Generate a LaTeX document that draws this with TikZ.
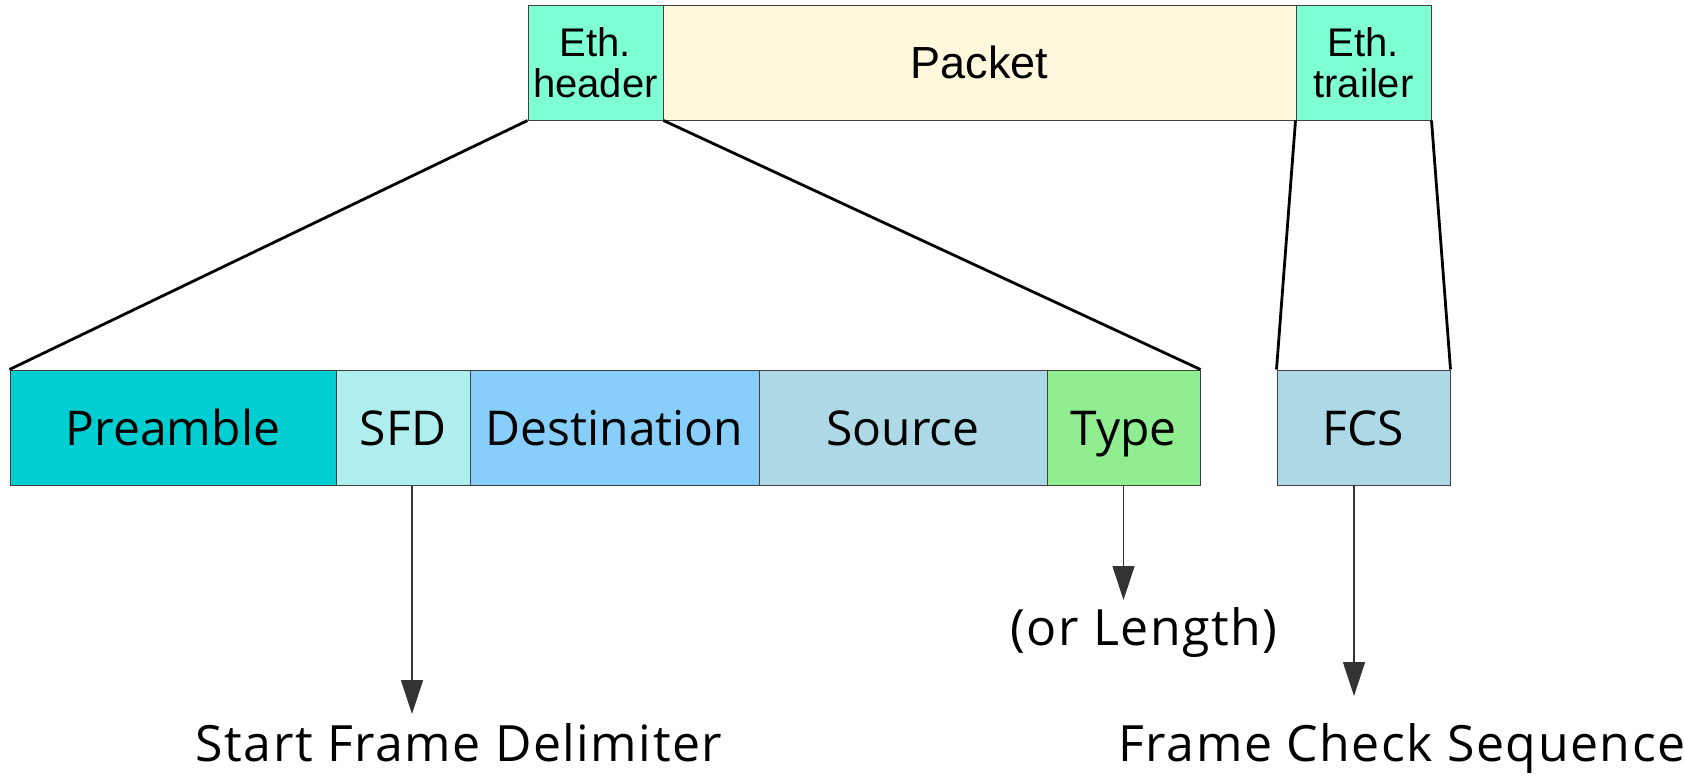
\documentclass[tikz,border=0pt]{standalone}
\usepackage{fontspec}
\setmainfont{Liberation Sans}
\newfontfamily\handfont{Open Sans}
\newfontfamily\handfontw[LetterSpace=3]{Open Sans}
\usetikzlibrary{arrows.meta}
\definecolor{aqm}{HTML}{7FFFD4}
\definecolor{csilk}{HTML}{FFF8DC}
\definecolor{dturq}{HTML}{00CED1}
\definecolor{pturq}{HTML}{AFEEEE}
\definecolor{lsky}{HTML}{87CEFA}
\definecolor{lblue}{HTML}{ADD8E6}
\definecolor{lgreen}{HTML}{90EE90}
\tikzset{
  topbox/.style={draw=black!75, line width=1pt, minimum height=115pt, inner sep=0pt, align=center, font=\fontsize{40}{41}\selectfont},
  botbox/.style={draw=black!75, line width=1pt, minimum height=115pt, inner sep=0pt, text height=36pt, text depth=0pt, font=\handfont\fontsize{48}{50}\selectfont},
  zoomline/.style={line width=2.8pt, black},
  callout/.style={draw=black!80, line width=1.2pt, -{Triangle[length=34pt,width=22pt]}},
  lbl/.style={font=\handfontw\fontsize{50}{52}\selectfont, inner sep=0pt, anchor=base}
}
\begin{document}
\begin{tikzpicture}[x=1pt,y=-1pt]
\useasboundingbox (0,0) rectangle (1684,782);
% top row
\node[topbox, fill=aqm, minimum width=135pt] (eh) at (595.5,62.5) {Eth.\\header};
\node[topbox, fill=csilk, minimum width=633pt, font=\fontsize{45}{48}\selectfont] (pk) at (979.5,62.5) {Packet};
\node[topbox, fill=aqm, minimum width=135pt] (et) at (1363.5,62.5) {Eth.\\trailer};
% bottom row
\node[botbox, fill=dturq, minimum width=326pt] (pre) at (173,427.5) {Preamble};
\node[botbox, fill=pturq, minimum width=134pt] (sfd) at (403,427.5) {SFD};
\node[botbox, fill=lsky, minimum width=289pt] (dst) at (614.5,427.5) {Destination};
\node[botbox, fill=lblue, minimum width=288pt] (src) at (903,427.5) {Source};
\node[botbox, fill=lgreen, minimum width=153pt] (typ) at (1123.5,427.5) {Type};
\node[botbox, fill=lblue, minimum width=173pt] (fcs) at (1363.5,427.5) {FCS};
% zoom lines
\draw[zoomline] (eh.south west) -- (pre.north west);
\draw[zoomline] (eh.south east) -- (typ.north east);
\draw[zoomline] (et.south west) -- (fcs.north west);
\draw[zoomline] (et.south east) -- (fcs.north east);
% labels
\node[lbl] (sfdtxt) at (459,761) {Start Frame Delimiter};
\node[lbl] (typtxt) at (1144,645) {(or Length)};
\node[lbl] (fcstxt) at (1402,761) {Frame Check Sequence};
\coordinate (sfdtip) at (412,714);
\coordinate (typtip) at (1123.5,600);
\coordinate (fcstip) at (1354,696);
% callouts
\draw[callout] (sfd.south -| sfdtip) -- (sfdtip);
\draw[callout] (typ.south) -- (typtip);
\draw[callout] (fcs.south -| fcstip) -- (fcstip);
\end{tikzpicture}
\end{document}
